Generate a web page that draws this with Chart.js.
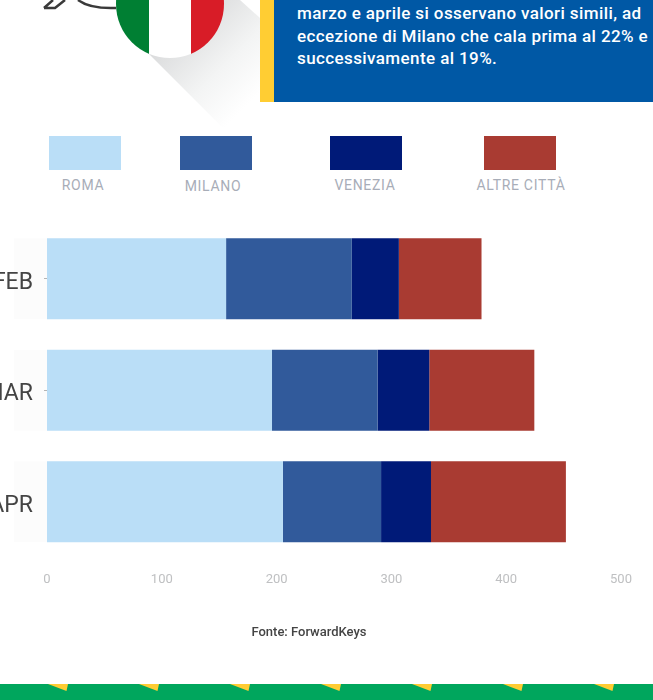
<!DOCTYPE html>
<html lang="it">
<head>
<meta charset="utf-8">
<title>Arrivi per città</title>
<script src="https://cdn.jsdelivr.net/npm/chart.js@4"></script>
<style>
  html, body { margin: 0; padding: 0; background: #fff; }
  body { position: relative; width: 653px; height: 700px; overflow: hidden; font-family: Roboto, sans-serif; }
  .abs { position: absolute; }
  #shadow { left: 130px; top: 0; width: 130px; height: 135px; background: linear-gradient(135deg, #d8d9da 25%, #f3f4f4 60%, #fff 84%);
    clip-path: polygon(18px 53px, 96px 131px, 130px 131px, 130px 18px, 110px 0, 18px 0); }
  #flag { left: 116px; top: -50px; width: 108px; height: 108px; border-radius: 50%; overflow: hidden;
    background: linear-gradient(90deg, #007f33 0 33px, #fff 33px 75px, #d81c27 75px); }
  #accent { left: 260px; top: 0; width: 14px; height: 102px; background: #ffcd33; }
  #box { left: 274px; top: 0; width: 379px; height: 102px; background: #0058a5; }
  #box p { position: absolute; left: 23px; top: 2px; width: 356px; margin: 0; color: #fff; font-size: 17px; font-weight: 500; letter-spacing: 0.4px; line-height: 22.5px; white-space: nowrap; }
  .swatch { position: absolute; top: 136px; width: 72px; height: 34px; }
  .swatch-label { position: absolute; top: 177px; width: 140px; text-align: center; color: #a8adb8; font-size: 14px; letter-spacing: 0.7px; line-height: 16px; }
  #chart { position: absolute; left: 0; top: 0; }
  #source { left: 209px; top: 624px; width: 200px; text-align: center; color: #444; font-size: 13px; font-weight: 500; line-height: 15px; }
  #footer { left: 0; top: 684px; }
</style>
</head>
<body>
<svg class="abs" style="left:0;top:0" width="116" height="20">
  <path d="M44 8 L53 0 M44 8 L55 8 L65 0 M78 0 Q90 9 116 8" fill="none" stroke="#3a3a3a" stroke-width="2.5"/>
</svg>
<div id="shadow" class="abs"></div>
<div id="flag" class="abs"></div>
<div id="accent" class="abs"></div>
<div id="box" class="abs">
  <p>marzo e aprile si osservano valori simili, ad<br>eccezione di Milano che cala prima al 22% e<br>successivamente al 19%.</p>
</div>
<div id="legend"></div>
<canvas id="chart" width="653" height="700"></canvas>
<div id="source" class="abs">Fonte: ForwardKeys</div>
<svg id="footer" class="abs" width="653" height="16"></svg>

<script>
// ========== DATA ==========
const months = ['FEB', 'MAR', 'APR'];
const roma = [156, 196, 205.5];
const milano = [109.5, 92, 85.5];
const venezia = [41, 45, 43.5];
const altreCitta = [72, 91.5, 117.5];
const seriesNames = ['ROMA', 'MILANO', 'VENEZIA', 'ALTRE CITTÀ'];

// ========== STYLE ==========
const seriesColors = ['#badef7', '#315a9b', '#001a78', '#a93b32'];
const swatchLeft = [49, 180, 330, 484];
const labelCenter = [83, 213, 365, 521];
const labelNudge = [0, 1, 0, 0];

// ========== LEGEND ==========
function buildLegend() {
  const legend = document.getElementById('legend');
  seriesNames.forEach((name, i) => {
    const swatch = document.createElement('div');
    swatch.className = 'swatch';
    swatch.style.left = swatchLeft[i] + 'px';
    swatch.style.background = seriesColors[i];
    legend.appendChild(swatch);

    const label = document.createElement('div');
    label.className = 'swatch-label';
    label.style.left = (labelCenter[i] - 70) + 'px';
    label.style.marginTop = labelNudge[i] + 'px';
    label.textContent = name;
    legend.appendChild(label);
  });
}

// ========== FOOTER ==========
function buildFooter() {
  const parts = ['<rect width="653" height="16" fill="#00a65d"/>'];
  for (let x = 48; x < 653; x += 91) {
    parts.push(`<polygon points="${x},0 ${x + 20},0 ${x + 18.5},7" fill="#ffcc33"/>`);
  }
  document.getElementById('footer').innerHTML = parts.join('');
}

// faint strip behind the month labels, one per bar
const labelStrip = {
  id: 'labelStrip',
  beforeDraw(chart) {
    const { ctx, chartArea } = chart;
    ctx.save();
    ctx.fillStyle = '#fcfcfc';
    chart.getDatasetMeta(0).data.forEach(bar => {
      ctx.fillRect(14, bar.y - bar.height / 2, chartArea.left - 14, bar.height);
    });
    ctx.restore();
  }
};

// ========== CHART ==========
function initChart() {
  const values = [roma, milano, venezia, altreCitta];
  new Chart(document.getElementById('chart').getContext('2d'), {
    type: 'bar',
    data: {
      labels: months,
      datasets: seriesNames.map((name, i) => ({
        label: name,
        data: values[i],
        backgroundColor: seriesColors[i],
        borderWidth: 0,
        categoryPercentage: 1,
        barPercentage: 0.726
      }))
    },
    plugins: [labelStrip],
    options: {
      indexAxis: 'y',
      responsive: false,
      animation: false,
      layout: { padding: { top: 223, right: 32, bottom: 112.5, left: 0 } },
      plugins: { legend: { display: false }, tooltip: { enabled: false } },
      scales: {
        x: {
          stacked: true,
          min: 0,
          max: 500,
          afterFit: scale => { scale.height = 30; },
          grid: { display: false },
          border: { display: false },
          ticks: { stepSize: 100, maxRotation: 0, color: '#bfc0c2', font: { family: 'Roboto', size: 13 }, padding: 6 }
        },
        y: {
          stacked: true,
          afterFit: scale => { scale.width = 47; },
          border: { display: false },
          grid: {
            offset: false,
            drawOnChartArea: false,
            tickLength: 3,
            tickColor: ctx => (ctx.index === 2 ? 'transparent' : '#b5b5b5')
          },
          ticks: { color: '#444', font: { family: 'Roboto', size: 23 }, padding: 11, labelOffset: 4 }
        }
      }
    }
  });
}

buildLegend();
buildFooter();
initChart();
</script>
</body>
</html>
